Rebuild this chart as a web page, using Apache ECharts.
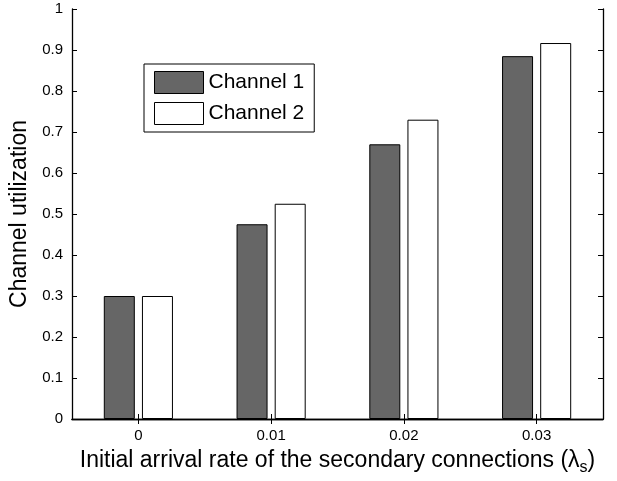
<!DOCTYPE html>
<html>
<head>
<meta charset="utf-8">
<script src="https://cdn.jsdelivr.net/npm/echarts@6/dist/echarts.min.js"></script>
<style>
  html, body { margin: 0; padding: 0; background: #fff; }
  #chart { width: 617px; height: 481px; }
</style>
</head>
<body>
<div id="chart"></div>
<script>
// data
var categories = ['0', '0.01', '0.02', '0.03']
var channel1 = [0.30, 0.475, 0.67, 0.885]
var channel2 = [0.30, 0.525, 0.73, 0.917]

var font = 'Liberation Sans, Arial, Helvetica, sans-serif'

var chart = echarts.init(document.getElementById('chart'))

var tickStyle = { show: true, inside: true, length: 5, lineStyle: { color: '#000', width: 1 } }
var lineStyle = { show: true, lineStyle: { color: '#000', width: 1.3 } }

chart.setOption({
  animation: false,
  backgroundColor: '#fff',
  grid: { left: 72, right: 14, top: 9, bottom: 58 },
  legend: {
    orient: 'vertical',
    left: 144,
    top: 64,
    padding: [7, 10, 7, 10],
    itemWidth: 49,
    itemHeight: 22,
    itemGap: 8,
    borderColor: '#000',
    borderWidth: 1,
    backgroundColor: '#fff',
    icon: 'rect',
    itemStyle: { borderWidth: 1, borderColor: '#000' },
    textStyle: { fontFamily: font, fontSize: 21, color: '#000' },
    data: ['Channel 1', 'Channel 2']
  },
  xAxis: [{
    type: 'category',
    data: categories,
    boundaryGap: true,
    axisLine: lineStyle,
    axisTick: Object.assign({ alignWithLabel: true }, tickStyle),
    axisLabel: { color: '#000', fontFamily: font, fontSize: 15, margin: 9 },
    name: '{t|Initial arrival rate of the secondary connections (λ}{s|s}{t|)}',
    nameLocation: 'middle',
    nameGap: 27,
    nameTextStyle: {
      rich: {
        t: { fontFamily: font, fontSize: 23, color: '#000' },
        s: { fontFamily: font, fontSize: 16, color: '#000', padding: [14, 0, 0, 0] }
      }
    }
  }, {
    type: 'category',
    data: categories,
    position: 'top',
    boundaryGap: true,
    axisLine: lineStyle,
    axisTick: Object.assign({ alignWithLabel: true }, tickStyle),
    axisLabel: { show: false }
  }],
  yAxis: [{
    type: 'value',
    min: 0,
    max: 1,
    interval: 0.1,
    axisLine: lineStyle,
    axisTick: tickStyle,
    splitLine: { show: false },
    axisLabel: { color: '#000', fontFamily: font, fontSize: 15, margin: 9 },
    name: 'Channel utilization',
    nameLocation: 'middle',
    nameGap: 37,
    nameTextStyle: { fontFamily: font, fontSize: 23, color: '#000' }
  }, {
    type: 'value',
    position: 'right',
    min: 0,
    max: 1,
    interval: 0.1,
    axisLine: lineStyle,
    axisTick: tickStyle,
    splitLine: { show: false },
    axisLabel: { show: false }
  }],
  series: [{
    name: 'Channel 1',
    type: 'bar',
    data: channel1,
    barWidth: 31,
    barGap: '23%',
    itemStyle: { color: '#666666', borderColor: '#000', borderWidth: 1 }
  }, {
    name: 'Channel 2',
    type: 'bar',
    data: channel2,
    barWidth: 31,
    itemStyle: { color: '#ffffff', borderColor: '#000', borderWidth: 1 }
  }]
})
</script>
</body>
</html>
